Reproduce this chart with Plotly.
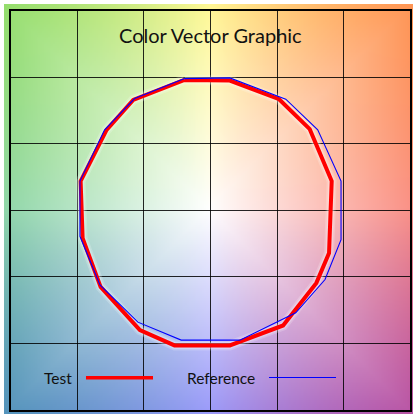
import numpy as np
import zlib, struct, base64
import plotly.graph_objects as go

W, H = 413, 415

# ---- data (vector positions, grid units) ----
test_x = [-0.39, 0.29, 1.03, 1.49, 1.82, 1.78, 1.59, 1.09, 0.29, -0.54, -1.06, -1.65, -1.92, -1.95, -1.56, -1.16]
test_y = [1.96, 1.95, 1.67, 1.22, 0.44, -0.64, -1.09, -1.73, -2.03, -2.03, -1.80, -1.15, -0.42, 0.44, 1.21, 1.66]
ref_x = [-0.39, 0.29, 1.13, 1.61, 1.96, 1.96, 1.72, 1.28, 0.44, -0.44, -1.09, -1.66, -1.96, -1.96, -1.59, -1.14]
ref_y = [1.98, 1.99, 1.67, 1.21, 0.44, -0.44, -1.04, -1.54, -1.95, -1.95, -1.68, -1.12, -0.39, 0.44, 1.21, 1.68]
series_names = ["Test", "Reference"]
title_text = "Color Vector Graphic"

# ---- background gradient (decoration) ----
anchor_angles = np.array([0, 45, 90, 135, 180, 225, 270, 315, 360], dtype=float)
anchor_cols = np.array([
    [250, 145, 135],
    [255, 150, 85],
    [255, 248, 150],
    [150, 222, 110],
    [145, 215, 170],
    [85, 148, 188],
    [155, 155, 250],
    [185, 85, 165],
    [250, 145, 135],
], dtype=float)

N = 220
g = np.linspace(-1, 1, N)
U, V = np.meshgrid(g, -g)
R = np.maximum(np.abs(U), np.abs(V))
TH = (np.degrees(np.arctan2(V, U)) + 360) % 360
edge = np.stack([np.interp(TH, anchor_angles, anchor_cols[:, k]) for k in range(3)], axis=-1)
f = np.clip(R, 0, 1)[..., None]
img = 255 * (1 - f) + edge * f
img = np.clip(img, 0, 255).astype(np.uint8)


def to_png(a):
    h, w, _ = a.shape
    raw = b"".join(b"\x00" + a[y].tobytes() for y in range(h))

    def chunk(t, d):
        c = struct.pack(">I", len(d)) + t + d
        return c + struct.pack(">I", zlib.crc32(t + d) & 0xFFFFFFFF)

    return (b"\x89PNG\r\n\x1a\n" + chunk(b"IHDR", struct.pack(">IIBBBBB", w, h, 8, 2, 0, 0, 0))
            + chunk(b"IDAT", zlib.compress(raw, 9)) + chunk(b"IEND", b""))


uri = "data:image/png;base64," + base64.b64encode(to_png(img)).decode()

fig = go.Figure()

tx = test_x + test_x[:1]
ty = test_y + test_y[:1]
rx = ref_x + ref_x[:1]
ry = ref_y + ref_y[:1]

# soft glow under test line
fig.add_trace(go.Scatter(x=tx, y=ty, mode="lines", line=dict(color="rgba(255,255,255,0.2)", width=10),
                         hoverinfo="skip", showlegend=False))
fig.add_trace(go.Scatter(x=tx, y=ty, mode="lines", line=dict(color="rgba(255,255,255,0.25)", width=7),
                         hoverinfo="skip", showlegend=False))
fig.add_trace(go.Scatter(x=tx, y=ty, mode="lines", name=series_names[0],
                         line=dict(color="#ff0000", width=4), showlegend=False))
fig.add_trace(go.Scatter(x=rx, y=ry, mode="lines", name=series_names[1],
                         line=dict(color="#0000ff", width=1.1), showlegend=False))

x0, x1 = 10.7, 410.3
yt, yb = 10.7, 410.0

fig.update_layout(
    width=W, height=H,
    margin=dict(l=0, r=0, t=0, b=0),
    paper_bgcolor="white",
    plot_bgcolor="rgba(0,0,0,0)",
    images=[dict(source=uri, xref="paper", yref="paper", x=4 / W, y=1 - 4 / H,
                 sizex=(413 - 4) / W, sizey=(414 - 4) / H, sizing="stretch",
                 xanchor="left", yanchor="top", layer="below")],
    xaxis=dict(domain=[x0 / W, x1 / W], range=[-3, 3], dtick=1, showticklabels=False, ticks="",
               showgrid=True, gridcolor="rgba(0,0,0,0.85)", gridwidth=1.3,
               zeroline=True, zerolinecolor="rgba(0,0,0,0.85)", zerolinewidth=1.3,
               showline=True, mirror=True, linecolor="black", linewidth=1.5, fixedrange=True),
    yaxis=dict(domain=[1 - yb / H, 1 - yt / H], range=[-3, 3], dtick=1, showticklabels=False, ticks="",
               showgrid=True, gridcolor="rgba(0,0,0,0.85)", gridwidth=1.3,
               zeroline=True, zerolinecolor="rgba(0,0,0,0.85)", zerolinewidth=1.3,
               showline=True, mirror=True, linecolor="black", linewidth=1.5, fixedrange=True),
    showlegend=False,
)

fig.add_annotation(text=title_text, xref="paper", yref="paper", x=210.5 / W, y=1 - 35 / H,
                   xanchor="center", yanchor="middle", showarrow=False,
                   font=dict(family="Lato", size=20, color="#111111"))

# manual legend (text left, sample line right)
fig.add_annotation(text=series_names[0], xref="paper", yref="paper", x=57.5 / W, y=1 - 378 / H,
                   xanchor="center", yanchor="middle", showarrow=False,
                   font=dict(family="Lato", size=15.5, color="#111111"))
fig.add_annotation(text=series_names[1], xref="paper", yref="paper", x=221 / W, y=1 - 378 / H,
                   xanchor="center", yanchor="middle", showarrow=False,
                   font=dict(family="Lato", size=15.5, color="#111111"))
fig.add_shape(type="line", xref="paper", yref="paper", x0=86 / W, x1=153 / W, y0=1 - 377.7 / H, y1=1 - 377.7 / H,
              line=dict(color="#ff0000", width=3.5))
fig.add_shape(type="line", xref="paper", yref="paper", x0=269 / W, x1=336 / W, y0=1 - 377.5 / H, y1=1 - 377.5 / H,
              line=dict(color="#0000ff", width=1.2))

fig.write_html("out.html", config={"displayModeBar": False},
               post_script="document.body.style.margin='0';document.body.style.padding='0';")
